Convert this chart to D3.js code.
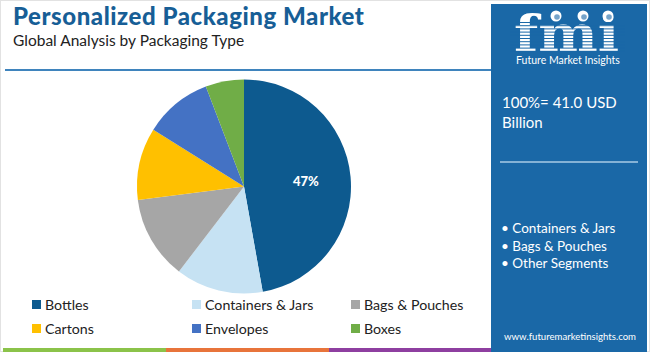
<!DOCTYPE html>
<html><head><meta charset="utf-8">
<script src="https://cdn.jsdelivr.net/npm/d3@7"></script>
<style>body{margin:0;background:#fff;font-family:"Lato","Open Sans",sans-serif}</style>
</head><body><svg id="c" width="650" height="352"></svg>
<script>
const categories = ["Bottles","Containers & Jars","Bags & Pouches","Cartons","Envelopes","Boxes"];
const shares = [47.2,13.2,12.6,10.9,10.3,5.8];
const colors = ["#0d5a8f","#c6e2f3","#a6a6a6","#ffc000","#4472c4","#70ad47"];
const shownLabels = ["47%","","","","",""];
const sideSegments = ["Containers & Jars","Bags & Pouches","Other Segments"];

const svg = d3.select("#c");
svg.append("rect").attr("x",0.5).attr("y",0.5).attr("width",649).attr("height",351).attr("fill","#fff").attr("stroke","#e2e2e2");

// title
svg.append("text").attr("x",13).attr("y",25).text("Personalized Packaging Market")
  .attr("font-family","Lato, sans-serif").attr("font-weight",900).attr("font-size",24).attr("letter-spacing",0.55).attr("fill","#175e96");
svg.append("text").attr("x",13).attr("y",46).text("Global Analysis by Packaging Type")
  .attr("font-family","Lato, sans-serif").attr("font-size",15.5).attr("fill","#222");
svg.append("line").attr("x1",5).attr("x2",491).attr("y1",70).attr("y2",70).attr("stroke","#3f84bd").attr("stroke-width",2);

// pie
const cx=244, cy=186.5, R=107;
const pie = d3.pie().sort(null).value(d=>d)(shares);
const arc = d3.arc().innerRadius(0).outerRadius(R);
const g = svg.append("g").attr("transform",`translate(${cx},${cy})`);
g.selectAll("path").data(pie).join("path").attr("d",arc).attr("fill",(d,i)=>colors[i]);
const lab = d3.arc().innerRadius(R*0.58).outerRadius(R*0.58);
g.selectAll("text").data(pie).join("text")
  .attr("transform",d=>`translate(${lab.centroid(d)})`)
  .attr("text-anchor","middle").attr("dy","0.35em")
  .attr("font-family","Lato, sans-serif").attr("font-weight",900).attr("font-size",13).attr("fill","#fff")
  .text((d,i)=>shownLabels[i]);

// legend
const colX=[32,192,351], rowY=[310,334];
categories.forEach((c,i)=>{
  const x=colX[i%3], y=rowY[Math.floor(i/3)];
  svg.append("rect").attr("x",x).attr("y",y-10).attr("width",9).attr("height",9).attr("fill",colors[i]);
  svg.append("text").attr("x",x+13).attr("y",y).text(c).attr("font-size",14.2).attr("fill","#222")
    .attr("font-family","Lato, sans-serif");
});

// bottom stripes
[["#8bc34a",3,166],["#e8743b",166,329],["#8e3fa0",329,491]].forEach(s=>{
  svg.append("rect").attr("x",s[1]).attr("y",348).attr("width",s[2]-s[1]).attr("height",4).attr("fill",s[0]);
});

// side panel
svg.append("rect").attr("x",491).attr("y",4).attr("width",156).attr("height",348).attr("fill","#1a68a7");
// logo
const lg = svg.append("g");
lg.append("text").attr("x",514).attr("y",51).text("fmi")
  .attr("font-family","DejaVu Serif, serif").attr("font-weight","bold").attr("font-size",50)
  .attr("textLength",105).attr("lengthAdjust","spacingAndGlyphs").attr("fill","#fff");
for(let y=22;y<53;y+=3.2){
  lg.append("rect").attr("x",510).attr("y",y).attr("width",115).attr("height",1).attr("fill","#1a68a7");
}
[[556,16],[583,16],[608,16]].forEach(p=>{
  lg.append("circle").attr("cx",p[0]).attr("cy",p[1]).attr("r",5.5).attr("fill","#fff");
  lg.append("circle").attr("cx",p[0]+1).attr("cy",p[1]+1).attr("r",2.8).attr("fill","#1a68a7").attr("opacity",0.6);
});
lg.append("text").attr("x",568).attr("y",64).attr("text-anchor","middle").text("Future Market Insights")
  .attr("font-family","Lato, sans-serif").attr("font-size",10.5).attr("fill","#fff");

svg.append("text").attr("x",502).attr("y",108).text("100%= 41.0 USD").attr("font-size",15).attr("fill","#fff").attr("font-family","Lato, sans-serif");
svg.append("text").attr("x",502).attr("y",128).text("Billion").attr("font-size",15).attr("fill","#fff").attr("font-family","Lato, sans-serif");
svg.append("line").attr("x1",500).attr("x2",638).attr("y1",162).attr("y2",162).attr("stroke","#a9cbe6").attr("stroke-width",1.5);
sideSegments.forEach((s,i)=>{
  svg.append("text").attr("x",501).attr("y",233+i*17.5).text("\u2022 "+s).attr("font-size",13.5).attr("fill","#fff").attr("font-family","Lato, sans-serif");
});
svg.append("text").attr("x",570).attr("y",340).attr("text-anchor","middle").text("www.futuremarketinsights.com")
  .attr("font-size",9.6).attr("fill","#fff").attr("font-family","Lato, sans-serif");
</script></body></html>
